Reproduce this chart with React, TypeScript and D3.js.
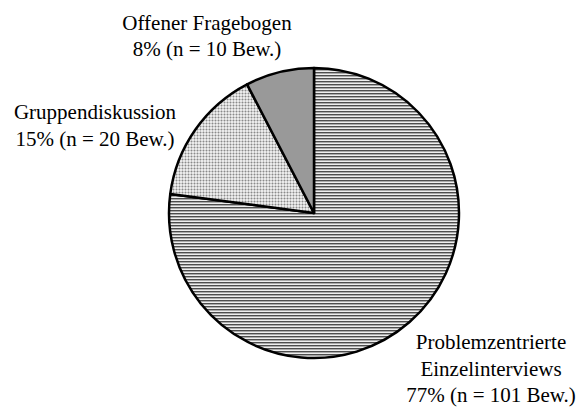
import * as d3 from "d3";
import React from "react";

// Bewerbungen nach Erhebungsmethode
const methods = ["Problemzentrierte Einzelinterviews", "Gruppendiskussion", "Offener Fragebogen"];
const counts = [101, 20, 10];
const percents = [77, 15, 8];
const labelLines = [
  ["Problemzentrierte", "Einzelinterviews", "77% (n = 101 Bew.)"],
  ["Gruppendiskussion", "15% (n = 20 Bew.)"],
  ["Offener Fragebogen", "8% (n = 10 Bew.)"],
];

const width = 580,
  height = 407;
const cx = 314,
  cy = 213,
  radius = 145;
const fontSize = 21;
const lineHeight = 26.6;

// label block anchors (centre x, first baseline y)
const labelPos = [
  { x: 491, y: 349 },
  { x: 95, y: 119 },
  { x: 207, y: 29.5 },
];

const fills = ["url(#stripes)", "url(#dots)", "#999999"];

export default function App() {
  const pie = d3
    .pie<number>()
    .sort(null)
    .value((d) => d);
  const arcs = pie(counts);
  const arc = d3
    .arc<d3.PieArcDatum<number>>()
    .innerRadius(0)
    .outerRadius(radius);

  return (
    <svg
      width={width}
      height={height}
      style={{ position: "absolute", left: 0, top: 0, background: "#fff" }}
      fontFamily="'Liberation Serif', 'Times New Roman', serif"
    >
      <defs>
        <pattern id="stripes" width={3} height={3} patternUnits="userSpaceOnUse">
          <rect width={3} height={3} fill="#eeeeee" />
          <rect y={0} width={3} height={1} fill="#4d4d4d" />
          <rect y={1} width={3} height={1} fill="#aaaaaa" />
        </pattern>
        <pattern id="dots" width={3} height={3} patternUnits="userSpaceOnUse">
          <rect width={3} height={3} fill="#eaeaea" />
          <rect x={0} y={0} width={3} height={1} fill="#c4c4c4" />
          <rect x={0} y={0} width={1} height={3} fill="#c4c4c4" />
          <rect x={0} y={0} width={1} height={1} fill="#8a8a8a" />
        </pattern>
      </defs>
      <g transform={`translate(${cx},${cy})`}>
        {arcs.map((a, i) => (
          <path
            key={methods[i]}
            d={arc(a) || ""}
            fill={fills[i]}
            stroke="#000"
            strokeWidth={2.5}
            strokeLinejoin="round"
          />
        ))}
      </g>
      {labelLines.map((lines, i) => (
        <text
          key={methods[i]}
          x={labelPos[i].x}
          y={labelPos[i].y}
          textAnchor="middle"
          fontSize={fontSize}
          fill="#000"
          data-pct={percents[i]}
        >
          {lines.map((l, j) => (
            <tspan key={j} x={labelPos[i].x} y={labelPos[i].y + j * lineHeight}>
              {l}
            </tspan>
          ))}
        </text>
      ))}
    </svg>
  );
}
